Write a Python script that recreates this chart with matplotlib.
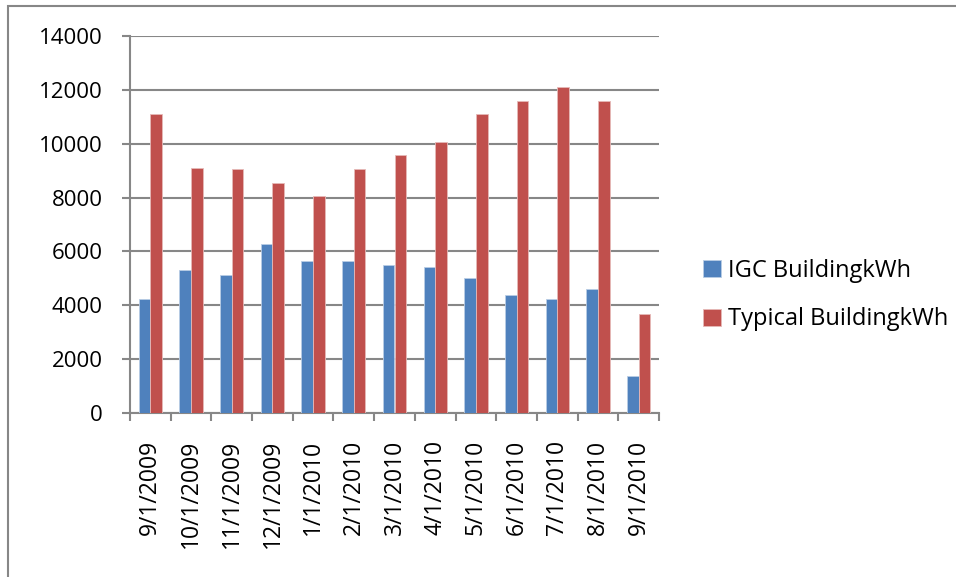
import matplotlib
matplotlib.use("Agg")
import matplotlib.pyplot as plt
from matplotlib.patches import Rectangle
import numpy as np

categories = ["9/1/2009", "10/1/2009", "11/1/2009", "12/1/2009", "1/1/2010", "2/1/2010",
              "3/1/2010", "4/1/2010", "5/1/2010", "6/1/2010", "7/1/2010", "8/1/2010", "9/1/2010"]
igc_kwh = [4250, 5300, 5120, 6260, 5650, 5630, 5510, 5430, 5020, 4370, 4250, 4600, 1390]
typical_kwh = [11090, 9080, 9050, 8550, 8060, 9060, 9570, 10070, 11090, 11590, 12090, 11600, 3670]
series_names = ["IGC BuildingkWh", "Typical BuildingkWh"]
yticks = [0, 2000, 4000, 6000, 8000, 10000, 12000, 14000]

BLUE = "#4F81BD"
RED = "#C0504D"
GRAY = "#878787"

plt.rcParams['font.family'] = ['Open Sans', 'DejaVu Sans']

W, H = 956, 577
fig = plt.figure(figsize=(W / 100, H / 100), dpi=100)
fig.patch.set_facecolor("white")

# outer chart border (only top and left visible within the image)
fig.patches.append(Rectangle((8 / W, -0.2), 1.5, (1 - 6 / H) + 0.2, transform=fig.transFigure,
                             fill=False, edgecolor=GRAY, linewidth=1.5, zorder=0))

ax = fig.add_axes([130 / W, 1 - 413 / H, (659 - 130) / W, (413 - 36) / H])
x = np.arange(len(categories))
w = 1 / 3.5
ax.bar(x - w / 2, igc_kwh, width=w, color=BLUE, edgecolor="#B9CDE5", linewidth=0.6,
       label=series_names[0], zorder=3)
ax.bar(x + w / 2, typical_kwh, width=w, color=RED, edgecolor="#E6B9B8", linewidth=0.6,
       label=series_names[1], zorder=3)

ax.set_xlim(-0.5, len(categories) - 0.5)
ax.set_ylim(0, 14000)
ax.set_yticks(yticks)
ax.set_yticklabels([str(v) for v in yticks], fontsize=16)
ax.yaxis.grid(True, color=GRAY, linewidth=1.5, zorder=0)
ax.set_axisbelow(True)

ax.set_xticks(x)
ax.set_xticklabels(categories, rotation=90, fontsize=16.5)
ax.set_xticks(np.arange(len(categories) + 1) - 0.5, minor=True)
ax.tick_params(axis='x', which='major', length=0, pad=19.5)
ax.tick_params(axis='x', which='minor', length=6, width=1.5, color=GRAY, direction='out')
ax.tick_params(axis='y', which='major', length=6, width=1.5, color=GRAY, pad=13.5)

for s in ['top', 'right']:
    ax.spines[s].set_visible(False)
for s in ['left', 'bottom']:
    ax.spines[s].set_color(GRAY)
    ax.spines[s].set_linewidth(1.5)

leg = fig.legend(loc='center left', bbox_to_anchor=(682 / W, 1 - 295 / H), frameon=False,
                 fontsize=17, handlelength=0.75, handleheight=0.75, handletextpad=0.3,
                 labelspacing=1.05)

fig.savefig("out.png", dpi=100, facecolor="white")
